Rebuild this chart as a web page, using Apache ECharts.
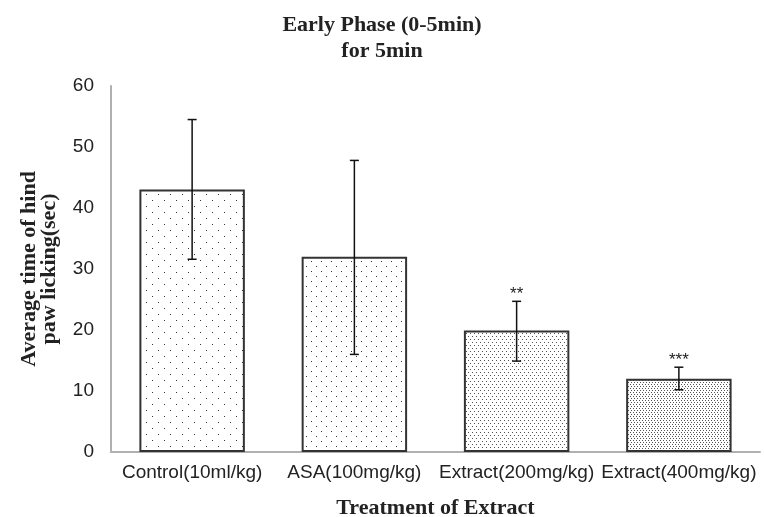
<!DOCTYPE html>
<html>
<head>
<meta charset="utf-8">
<script src="https://cdn.jsdelivr.net/npm/echarts@6/dist/echarts.min.js"></script>
<style>html,body{margin:0;padding:0;background:#fff;}#c{width:764px;height:517px;}</style>
</head>
<body>
<div id="c"></div>
<script>
var categories = ['Control(10ml/kg)', 'ASA(100mg/kg)', 'Extract(200mg/kg)', 'Extract(400mg/kg)'];
var means = [43.05, 32.0, 19.9, 12.0];
var errHigh = [54.5, 47.8, 24.7, 13.9];
var errLow = [31.6, 16.0, 14.9, 10.2];
var stars = ['', '', '**', '***'];
var yTicks = [0, 10, 20, 30, 40, 50, 60];

function makePattern(w, h, dots, color) {
  var c = document.createElement('canvas');
  c.width = w; c.height = h;
  var g = c.getContext('2d');
  g.fillStyle = '#fff';
  g.fillRect(0, 0, w, h);
  g.fillStyle = color;
  dots.forEach(function (d) { g.fillRect(d[0], d[1], d[2] || 1, d[3] || 1); });
  return c;
}
var patterns = [
  makePattern(12, 12, [[2, 2], [8, 8]], '#333'),
  makePattern(10, 10, [[1, 1], [6, 6]], '#333'),
  makePattern(4, 6, [[0, 0], [2, 3]], '#555'),
  makePattern(6, 4, [[0, 0], [3, 0], [1, 2], [4, 2]], '#555')
];

var chart = echarts.init(document.getElementById('c'));
var barData = means.map(function (v, i) {
  return { value: v, itemStyle: { color: { image: patterns[i], repeat: 'repeat' } } };
});
var errData = means.map(function (v, i) { return [i, errLow[i], errHigh[i], stars[i]]; });
var serif = 'Liberation Serif';
var sans = 'Liberation Sans';

chart.setOption({
  animation: false,
  title: {
    text: 'Early Phase (0-5min)\nfor 5min',
    left: 'center',
    top: 8,
    textStyle: { fontFamily: serif, fontWeight: 'bold', fontSize: 22, lineHeight: 25.5, color: '#222' }
  },
  grid: { left: 111, right: 4, top: 86, bottom: 65, containLabel: false, outerBoundsMode: 'none' },
  xAxis: {
    type: 'category',
    data: categories,
    name: 'Treatment of Extract',
    nameLocation: 'middle',
    nameGap: 45,
    nameTextStyle: { fontFamily: serif, fontWeight: 'bold', fontSize: 22, color: '#222' },
    axisLine: { lineStyle: { color: '#b0b0b0', width: 2 } },
    axisTick: { show: false },
    axisLabel: { fontFamily: sans, fontSize: 19, color: '#222', margin: 11, interval: 0 }
  },
  yAxis: {
    type: 'value',
    min: 0, max: 60, interval: 10,
    name: 'Average time of hind\npaw licking(sec)',
    nameLocation: 'middle',
    nameRotate: 90,
    nameGap: 52,
    nameTextStyle: { fontFamily: serif, fontWeight: 'bold', fontSize: 22, lineHeight: 20, color: '#222' },
    axisLine: { show: true, lineStyle: { color: '#b0b0b0', width: 2 } },
    axisTick: { show: false },
    splitLine: { show: false },
    axisLabel: {
      fontFamily: sans, fontSize: 19, color: '#222', margin: 17,
      formatter: function (v) { return yTicks.indexOf(v) >= 0 ? String(v) : ''; }
    }
  },
  series: [
    {
      type: 'bar',
      data: barData,
      barWidth: '65%',
      itemStyle: { borderColor: '#333', borderWidth: 2 },
      z: 2
    },
    {
      type: 'custom',
      data: errData,
      z: 5,
      renderItem: function (params, api) {
        var x = api.value(0);
        var lo = api.coord([x, api.value(1)]);
        var hi = api.coord([x, api.value(2)]);
        var cap = 4.5;
        var st = { stroke: '#111', lineWidth: 1.5 };
        var children = [
          { type: 'line', shape: { x1: hi[0], y1: hi[1], x2: lo[0], y2: lo[1] }, style: st },
          { type: 'line', shape: { x1: hi[0] - cap, y1: hi[1], x2: hi[0] + cap, y2: hi[1] }, style: st },
          { type: 'line', shape: { x1: lo[0] - cap, y1: lo[1], x2: lo[0] + cap, y2: lo[1] }, style: st }
        ];
        var s = api.value(3);
        if (s) {
          children.push({ type: 'text', style: { text: s, x: hi[0], y: hi[1] - 7, align: 'center', verticalAlign: 'middle', fontFamily: sans, fontSize: 17, fill: '#222' } });
        }
        return { type: 'group', children: children };
      }
    }
  ]
});
</script>
</body>
</html>
